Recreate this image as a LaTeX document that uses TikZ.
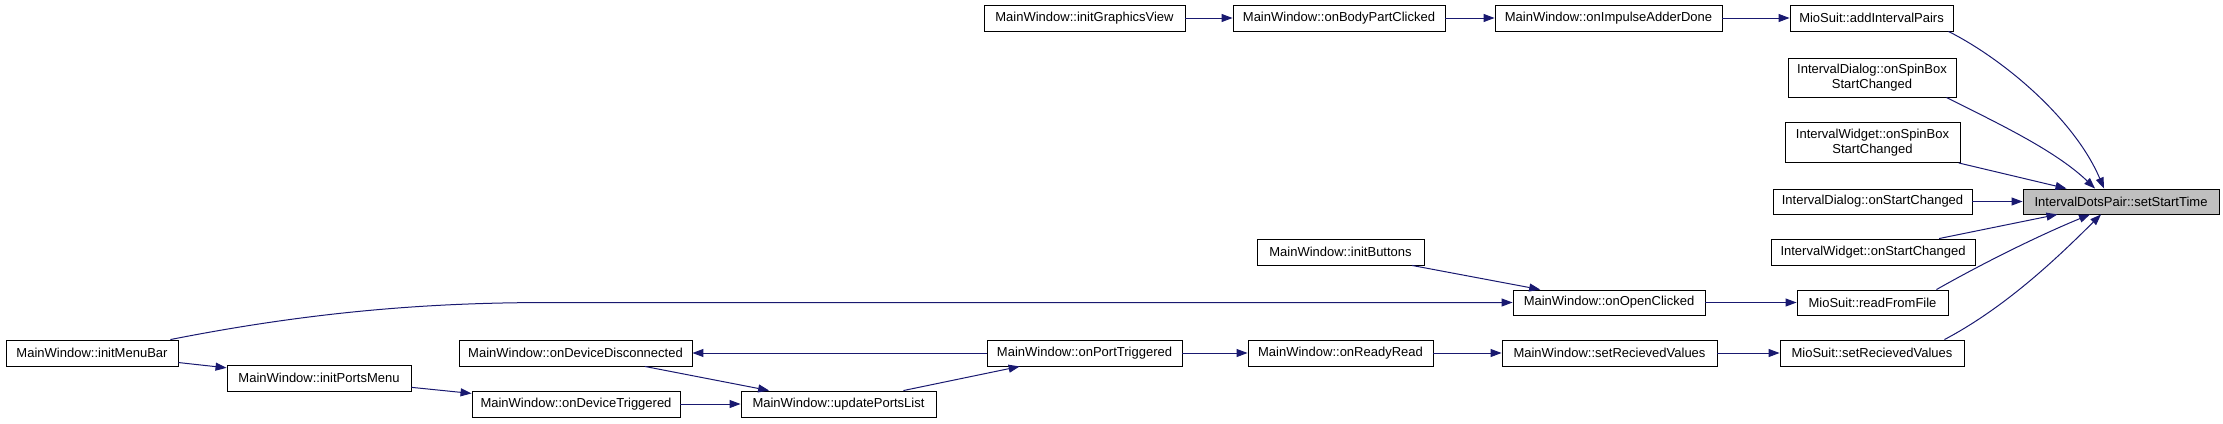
\documentclass[tikz,border=0pt]{standalone}
\usepackage{fontspec}
\setmainfont{Liberation Sans}
\usepackage{tikz}
\usetikzlibrary{arrows.meta}
\definecolor{edgeblue}{RGB}{25,25,112}
\definecolor{hlgray}{RGB}{191,191,191}

\begin{document}
\begin{tikzpicture}[x=1pt, y=-1pt,
    fn/.style={draw=black, line width=0.9pt, fill=white, inner sep=0pt,
      minimum height=26pt, align=center, font=\fontsize{13}{15}\selectfont},
    call/.style={draw=edgeblue, line width=1pt, -{Triangle[length=11pt,width=8pt]}}]
  \useasboundingbox (0,0) rectangle (2223,423);
  % top row
  \node[fn, minimum width=201pt] (gview) at (1084.5,18) {MainWindow::initGraphicsView};
  \node[fn, minimum width=212pt] (body) at (1339,18) {MainWindow::onBodyPartClicked};
  \node[fn, minimum width=227pt] (impulse) at (1608.5,18) {MainWindow::onImpulseAdderDone};
  \node[fn, minimum width=163pt] (addpairs) at (1871.5,18) {MioSuit::addIntervalPairs};
  % direct callers
  \node[fn, minimum width=168pt, minimum height=39pt] (dlgspin) at (1872,77.5) {IntervalDialog::onSpinBox\\StartChanged};
  \node[fn, minimum width=175pt, minimum height=40pt] (wdgspin) at (1872.5,142.5) {IntervalWidget::onSpinBox\\StartChanged};
  \node[fn, minimum width=199pt, minimum height=25pt] (dlgstart) at (1872.5,201.5) {IntervalDialog::onStartChanged};
  \node[fn, minimum width=196pt, minimum height=25pt, fill=hlgray] (start) at (2121,201.5) {IntervalDotsPair::setStartTime};
  \node[fn, minimum width=204pt] (wdgstart) at (1873,252) {IntervalWidget::onStartChanged};
  \node[fn, minimum width=167pt] (buttons) at (1340.5,252) {MainWindow::initButtons};
  \node[fn, minimum width=192pt, minimum height=25pt] (open) at (1609,302.5) {MainWindow::onOpenClicked};
  \node[fn, minimum width=151pt, minimum height=25pt] (readfile) at (1872.5,302.5) {MioSuit::readFromFile};
  % lower rows
  \node[fn, minimum width=185pt] (readyread) at (1340.5,353) {MainWindow::onReadyRead};
  \node[fn, minimum width=215pt] (mwvalues) at (1609.5,353) {MainWindow::setRecievedValues};
  \node[fn, minimum width=184pt] (msvalues) at (1872,353) {MioSuit::setRecievedValues};
  \node[fn, minimum width=172pt] (menubar) at (92,353) {MainWindow::initMenuBar};
  \node[fn, minimum width=184pt] (portsmenu) at (319,378) {MainWindow::initPortsMenu};
  \node[fn, minimum width=233pt] (devdisc) at (575.5,353) {MainWindow::onDeviceDisconnected};
  \node[fn, minimum width=208pt] (devtrig) at (576,404) {MainWindow::onDeviceTriggered};
  \node[fn, minimum width=195pt] (portslist) at (838.5,404) {MainWindow::updatePortsList};
  \node[fn, minimum width=195pt] (porttrig) at (1084.5,353) {MainWindow::onPortTriggered};

  \draw[call] (gview) -- (body);
  \draw[call] (body) -- (impulse);
  \draw[call] (impulse) -- (addpairs);
  \draw[call] ([xshift=-5pt]addpairs.south east) .. controls (2005,60) and (2075,120) .. ([xshift=-17pt]start.north);
  \draw[call] ([xshift=-10pt]dlgspin.south east) .. controls (1995,122) and (2055,150) .. ([xshift=-26pt]start.north);
  \draw[call] (wdgspin) -- (start);
  \draw[call] (dlgstart) -- (start);
  \draw[call] (wdgstart) -- (start);
  \draw[call] ([xshift=-12pt]readfile.north east) .. controls (1985,262) and (2040,235) .. ([xshift=-31pt]start.south);
  \draw[call] ([xshift=-20pt]msvalues.north east) .. controls (2010,305) and (2065,250) .. ([xshift=-20pt]start.south);
  \draw[call] (buttons) -- (open);
  \draw[call] (open) -- (readfile);
  \draw[call] ([xshift=-8pt]menubar.north east) .. controls (330,308) and (450,302.5) .. (553,302.5) -- (open.west);
  \draw[call] (menubar) -- (portsmenu);
  \draw[call] (portsmenu) -- (devtrig);
  \draw[call] (devtrig) -- (portslist);
  \draw[call] (devdisc) -- (portslist);
  \draw[call] (portslist) -- (porttrig);
  \draw[call] (porttrig) -- (devdisc);
  \draw[call] (porttrig) -- (readyread);
  \draw[call] (readyread) -- (mwvalues);
  \draw[call] (mwvalues) -- (msvalues);
\end{tikzpicture}
\end{document}
